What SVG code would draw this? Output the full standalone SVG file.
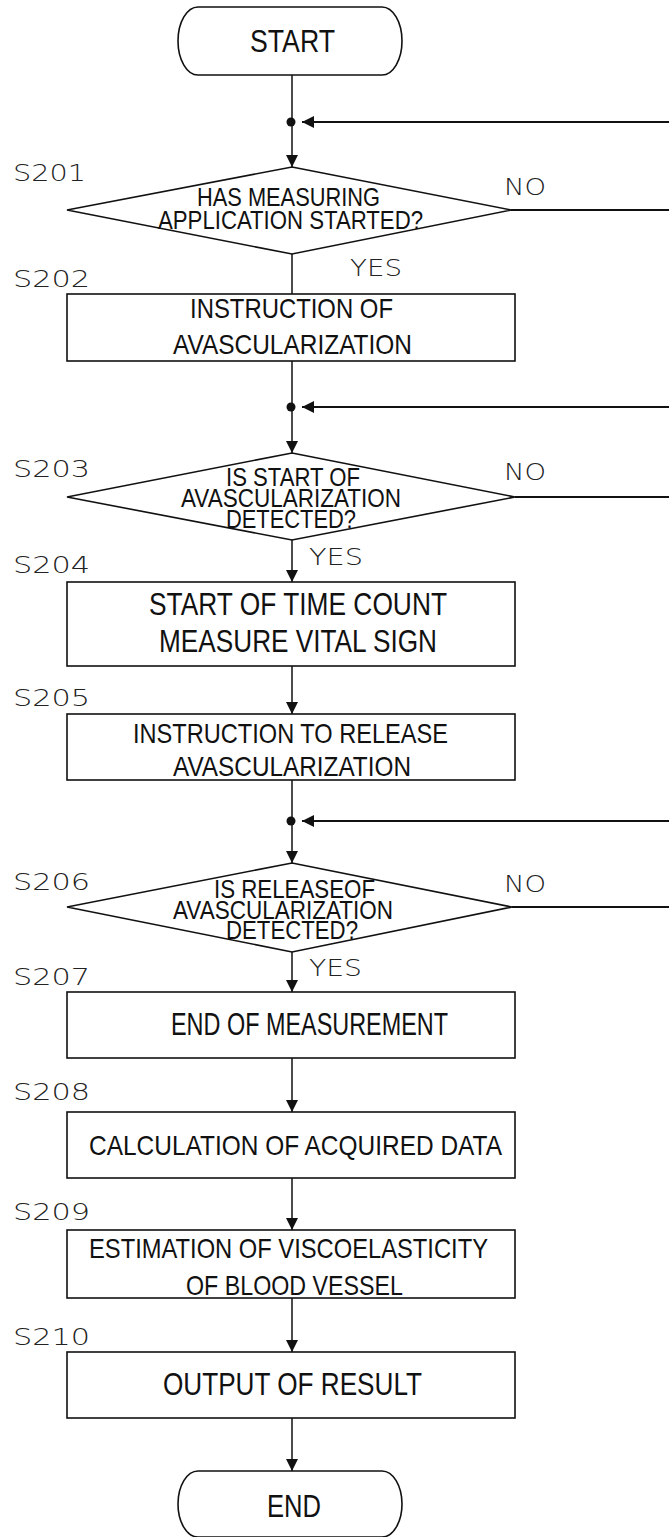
<svg xmlns="http://www.w3.org/2000/svg" width="669" height="1537" viewBox="0 0 669 1537">
<style>
  .sh { fill: #fff; stroke: #111; stroke-width: 1.6; }
  .ln { fill: none; stroke: #111; stroke-width: 1.5; }
  .lp { fill: none; stroke: #111; stroke-width: 2; }
  .t { font-family: "Liberation Sans", Arial, sans-serif; fill: #111; }
  .tb { font-size: 28.5px; }
  .tt { font-size: 30.5px; }
  .td { font-size: 25px; }
  .lb { font-family: "DejaVu Sans", "Liberation Sans", sans-serif; font-weight: 200; font-size: 23px; fill: #222; }
</style>
<defs>
  <marker id="ad" viewBox="0 0 12 14" refX="12" refY="7" markerWidth="12" markerHeight="14" markerUnits="userSpaceOnUse" orient="auto">
    <path d="M0,1 L12,7 L0,13 Z" fill="#111"/>
  </marker>
</defs>
<rect width="669" height="1537" fill="#fff"/>

<g id="connectors">
  <path class="ln" d="M292,75 V122"/>
  <path class="ln" d="M292,122 V167" marker-end="url(#ad)"/>
  <path class="lp" d="M669,122 H302" marker-end="url(#ad)"/>
  <circle cx="291" cy="122" r="4.5" fill="#111"/>
  <path class="lp" d="M511,210 H669"/>
  <path class="ln" d="M292,254 V294"/>
  <path class="ln" d="M292,361 V407"/>
  <path class="ln" d="M292,407 V453" marker-end="url(#ad)"/>
  <path class="lp" d="M669,407 H302" marker-end="url(#ad)"/>
  <circle cx="291" cy="407" r="4.5" fill="#111"/>
  <path class="lp" d="M515,497 H669"/>
  <path class="ln" d="M292,540 V582" marker-end="url(#ad)"/>
  <path class="ln" d="M292,666 V714" marker-end="url(#ad)"/>
  <path class="ln" d="M292,780 V821"/>
  <path class="ln" d="M292,821 V863" marker-end="url(#ad)"/>
  <path class="lp" d="M669,821 H302" marker-end="url(#ad)"/>
  <circle cx="291" cy="821" r="4.5" fill="#111"/>
  <path class="lp" d="M512,907 H669"/>
  <path class="ln" d="M292,952 V992" marker-end="url(#ad)"/>
  <path class="ln" d="M292,1058 V1112" marker-end="url(#ad)"/>
  <path class="ln" d="M292,1178 V1230" marker-end="url(#ad)"/>
  <path class="ln" d="M292,1298 V1352" marker-end="url(#ad)"/>
  <path class="ln" d="M292,1418 V1471" marker-end="url(#ad)"/>
  <text class="lb" x="504" y="195" textLength="42" lengthAdjust="spacingAndGlyphs">NO</text>
  <text class="lb" x="350" y="276" textLength="52" lengthAdjust="spacingAndGlyphs">YES</text>
  <text class="lb" x="504" y="480" textLength="42" lengthAdjust="spacingAndGlyphs">NO</text>
  <text class="lb" x="309" y="565" textLength="54" lengthAdjust="spacingAndGlyphs">YES</text>
  <text class="lb" x="504" y="892" textLength="42" lengthAdjust="spacingAndGlyphs">NO</text>
  <text class="lb" x="309" y="976" textLength="53" lengthAdjust="spacingAndGlyphs">YES</text>
</g>

<g id="start">
  <rect class="sh" x="178" y="7" width="224" height="68" rx="20" ry="34"/>
  <text class="t tt" x="250" y="52" textLength="85" lengthAdjust="spacingAndGlyphs">START</text>
</g>

<g id="S201">
  <polygon class="sh" points="292,167 511,210 292,254 67,210"/>
  <text class="lb" x="13" y="181" textLength="73" lengthAdjust="spacingAndGlyphs">S201</text>
  <text class="t td" x="197" y="206" textLength="183" lengthAdjust="spacingAndGlyphs">HAS MEASURING</text>
  <text class="t td" x="158" y="229" textLength="265" lengthAdjust="spacingAndGlyphs">APPLICATION STARTED?</text>
</g>

<g id="S202">
  <rect class="sh" x="67" y="294" width="448" height="67"/>
  <text class="lb" x="13" y="287" textLength="77" lengthAdjust="spacingAndGlyphs">S202</text>
  <text class="t tb" x="190" y="318" textLength="203" lengthAdjust="spacingAndGlyphs">INSTRUCTION OF</text>
  <text class="t tb" x="173" y="354" textLength="239" lengthAdjust="spacingAndGlyphs">AVASCULARIZATION</text>
</g>

<g id="S203">
  <polygon class="sh" points="292,453 515,497 292,540 67,497"/>
  <text class="lb" x="13" y="477" textLength="77" lengthAdjust="spacingAndGlyphs">S203</text>
  <text class="t td" x="226" y="486" textLength="134" lengthAdjust="spacingAndGlyphs">IS START OF</text>
  <text class="t td" x="181" y="507" textLength="220" lengthAdjust="spacingAndGlyphs">AVASCULARIZATION</text>
  <text class="t td" x="226" y="528" textLength="130" lengthAdjust="spacingAndGlyphs">DETECTED?</text>
</g>

<g id="S204">
  <rect class="sh" x="67" y="582" width="448" height="84"/>
  <text class="lb" x="13" y="573" textLength="77" lengthAdjust="spacingAndGlyphs">S204</text>
  <text class="t tt" x="149" y="615" textLength="298" lengthAdjust="spacingAndGlyphs">START OF TIME COUNT</text>
  <text class="t tt" x="159" y="652" textLength="278" lengthAdjust="spacingAndGlyphs">MEASURE VITAL SIGN</text>
</g>

<g id="S205">
  <rect class="sh" x="67" y="714" width="448" height="66"/>
  <text class="lb" x="13" y="706" textLength="77" lengthAdjust="spacingAndGlyphs">S205</text>
  <text class="t tb" x="133" y="743" textLength="315" lengthAdjust="spacingAndGlyphs">INSTRUCTION TO RELEASE</text>
  <text class="t tb" x="173" y="776" textLength="238" lengthAdjust="spacingAndGlyphs">AVASCULARIZATION</text>
</g>

<g id="S206">
  <polygon class="sh" points="292,863 512,907 292,952 67,907"/>
  <text class="lb" x="13" y="890" textLength="77" lengthAdjust="spacingAndGlyphs">S206</text>
  <text class="t td" x="214" y="898" textLength="161" lengthAdjust="spacingAndGlyphs">IS RELEASEOF</text>
  <text class="t td" x="173" y="919" textLength="220" lengthAdjust="spacingAndGlyphs">AVASCULARIZATION</text>
  <text class="t td" x="226" y="939" textLength="132" lengthAdjust="spacingAndGlyphs">DETECTED?</text>
</g>

<g id="S207">
  <rect class="sh" x="67" y="992" width="448" height="66"/>
  <text class="lb" x="13" y="985" textLength="77" lengthAdjust="spacingAndGlyphs">S207</text>
  <text class="t tt" x="171" y="1035" textLength="277" lengthAdjust="spacingAndGlyphs">END OF MEASUREMENT</text>
</g>

<g id="S208">
  <rect class="sh" x="67" y="1112" width="448" height="66"/>
  <text class="lb" x="13" y="1100" textLength="77" lengthAdjust="spacingAndGlyphs">S208</text>
  <text class="t tb" x="89" y="1155" textLength="413" lengthAdjust="spacingAndGlyphs">CALCULATION OF ACQUIRED DATA</text>
</g>

<g id="S209">
  <rect class="sh" x="67" y="1230" width="448" height="68"/>
  <text class="lb" x="13" y="1220" textLength="77" lengthAdjust="spacingAndGlyphs">S209</text>
  <text class="t tb" x="89" y="1258" textLength="399" lengthAdjust="spacingAndGlyphs">ESTIMATION OF VISCOELASTICITY</text>
  <text class="t tb" x="186" y="1295" textLength="217" lengthAdjust="spacingAndGlyphs">OF BLOOD VESSEL</text>
</g>

<g id="S210">
  <rect class="sh" x="67" y="1352" width="448" height="66"/>
  <text class="lb" x="13" y="1345" textLength="77" lengthAdjust="spacingAndGlyphs">S210</text>
  <text class="t tt" x="163" y="1395" textLength="259" lengthAdjust="spacingAndGlyphs">OUTPUT OF RESULT</text>
</g>

<g id="end">
  <rect class="sh" x="178" y="1471" width="224" height="66" rx="20" ry="33"/>
  <text class="t tt" x="267" y="1517" textLength="54" lengthAdjust="spacingAndGlyphs">END</text>
</g>
</svg>
